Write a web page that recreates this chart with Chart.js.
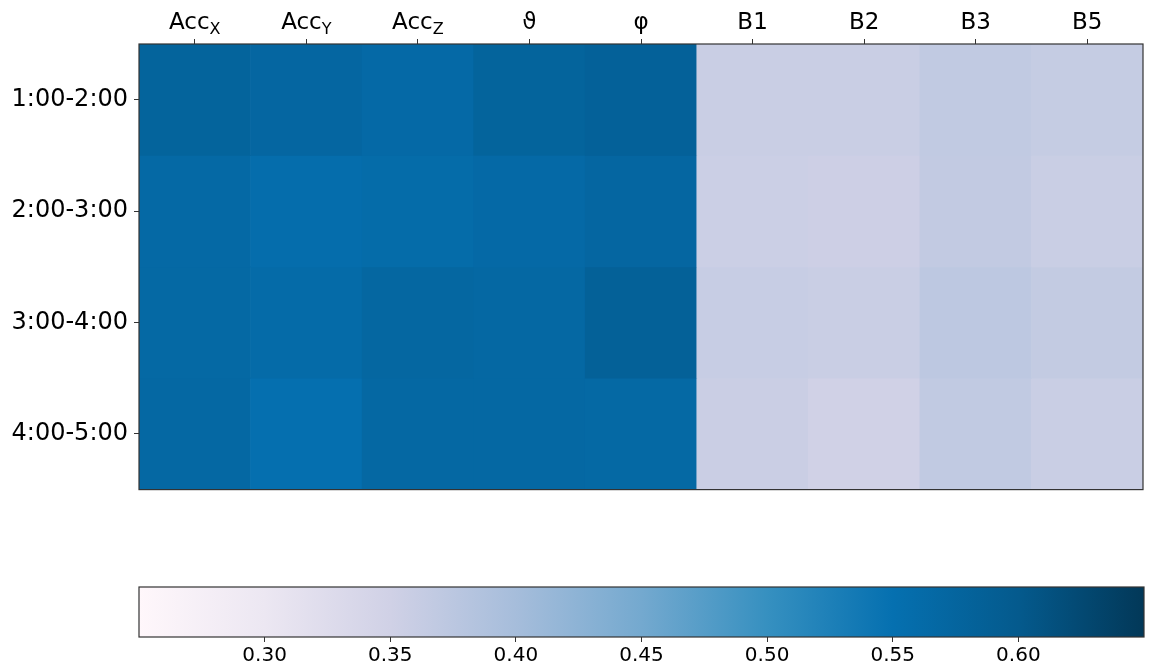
<!DOCTYPE html>
<html>
<head>
<meta charset="utf-8">
<script src="https://cdn.jsdelivr.net/npm/chart.js@4.4.1/dist/chart.umd.min.js"></script>
<style>
  html, body { margin: 0; padding: 0; background: #ffffff; }
  #wrap { position: relative; width: 1149px; height: 664px; overflow: hidden; }
  #heat { position: absolute; left: 0; top: 0; }
  #cbar { position: absolute; left: 0; top: 570px; }
</style>
</head>
<body>
<div id="wrap">
  <canvas id="heat" width="1149" height="510"></canvas>
  <canvas id="cbar" width="1149" height="94"></canvas>
</div>
<script>
// ---------------- data ----------------
const colNames = ['Acc', 'Acc', 'Acc', 'ϑ', 'φ', 'B1', 'B2', 'B3', 'B5'];
const colSubs  = ['X', 'Y', 'Z', '', '', '', '', '', ''];
const rowLabels = ['1:00-2:00', '2:00-3:00', '3:00-4:00', '4:00-5:00'];

const row1 = [0.578, 0.572, 0.565, 0.578, 0.583, 0.358, 0.358, 0.368, 0.363];
const row2 = [0.566, 0.556, 0.560, 0.565, 0.572, 0.356, 0.354, 0.367, 0.358];
const row3 = [0.567, 0.561, 0.571, 0.569, 0.584, 0.361, 0.358, 0.373, 0.366];
const row4 = [0.569, 0.552, 0.569, 0.568, 0.567, 0.357, 0.350, 0.368, 0.358];

const cbarMin = 0.25;
const cbarMax = 0.65;
const cbarTicks = [0.30, 0.35, 0.40, 0.45, 0.50, 0.55, 0.60];

// ---------------- colormap (PuBu) ----------------
const puBu = ['#fff7fb', '#ece7f2', '#d0d1e6', '#a6bddb', '#74a9cf', '#3690c0', '#0570b0', '#045a8d', '#023858'];
function hexToRgb(h) { return [parseInt(h.substr(1,2),16), parseInt(h.substr(3,2),16), parseInt(h.substr(5,2),16)]; }
const puBuRgb = puBu.map(hexToRgb);
function colorFor(v) {
  let t = (v - cbarMin) / (cbarMax - cbarMin);
  t = Math.max(0, Math.min(1, t));
  const n = puBuRgb.length - 1;
  const p = t * n;
  const i = Math.min(n - 1, Math.floor(p));
  const f = p - i;
  const a = puBuRgb[i], b = puBuRgb[i + 1];
  const c = a.map((x, k) => Math.round(x + (b[k] - x) * f));
  return 'rgb(' + c.join(',') + ')';
}

const FONT = 'DejaVu Sans';
const rows = [row1, row2, row3, row4];

// frame plugin
const framePlugin = {
  id: 'frame',
  afterDatasetsDraw(chart) {
    const a = chart.chartArea, ctx = chart.ctx;
    ctx.save();
    ctx.strokeStyle = '#333333';
    ctx.lineWidth = 1.2;
    ctx.strokeRect(a.left, a.top, a.right - a.left, a.bottom - a.top);
    ctx.restore();
  }
};

// top labels with subscripts
const topLabelPlugin = {
  id: 'topLabels',
  afterDraw(chart) {
    const xs = chart.scales.x, ctx = chart.ctx;
    ctx.save();
    ctx.fillStyle = '#000000';
    ctx.textBaseline = 'alphabetic';
    ctx.textAlign = 'left';
    colNames.forEach((name, i) => {
      const px = xs.getPixelForTick(i);
      ctx.font = '23px ' + FONT;
      const w1 = ctx.measureText(name).width;
      ctx.font = '16px ' + FONT;
      const w2 = colSubs[i] ? ctx.measureText(colSubs[i]).width : 0;
      const x0 = px - (w1 + w2) / 2;
      ctx.font = '23px ' + FONT;
      ctx.fillText(name, x0, 29);
      if (colSubs[i]) {
        ctx.font = '16px ' + FONT;
        ctx.fillText(colSubs[i], x0 + w1, 34);
      }
    });
    ctx.restore();
  }
};

const heatDatasets = rows.map((vals, r) => ({
  label: rowLabels[r],
  data: vals.map(() => [r, r + 1]),
  backgroundColor: vals.map(colorFor),
  borderWidth: 0,
  grouped: false,
  barPercentage: 1.0,
  categoryPercentage: 1.0
}));

new Chart(document.getElementById('heat'), {
  type: 'bar',
  data: {
    labels: colNames.map((n, i) => n + colSubs[i]),
    datasets: heatDatasets
  },
  options: {
    responsive: false,
    animation: false,
    devicePixelRatio: 1,
    layout: { padding: { left: 0, right: 6, top: 0, bottom: 9 } },
    plugins: { legend: { display: false }, tooltip: { enabled: false } },
    scales: {
      x: {
        type: 'category',
        position: 'top',
        offset: true,
        grid: { offset: false, drawOnChartArea: false, drawTicks: true, tickLength: 5, color: '#333333' },
        border: { display: false },
        ticks: { display: false },
        afterFit(scale) { scale.height = 44; }
      },
      y: {
        type: 'linear',
        min: 0,
        max: 4,
        reverse: true,
        grid: { drawOnChartArea: false, drawTicks: true, tickLength: 5, color: '#333333' },
        border: { display: false },
        afterBuildTicks(scale) { scale.ticks = rowLabels.map((_, i) => ({ value: i + 0.5 })); },
        ticks: {
          padding: 6,
          color: '#000000',
          font: { family: FONT, size: 24 },
          callback(value) { return rowLabels[Math.floor(value)]; }
        },
        afterFit(scale) { scale.width = 139; }
      }
    }
  },
  plugins: [framePlugin, topLabelPlugin]
});

// ---------------- colorbar ----------------
new Chart(document.getElementById('cbar'), {
  type: 'bar',
  data: {
    labels: ['cb'],
    datasets: [{
      data: [[cbarMin, cbarMax]],
      borderWidth: 0,
      barPercentage: 1.0,
      categoryPercentage: 1.0,
      backgroundColor(ctx) {
        const chart = ctx.chart;
        const a = chart.chartArea;
        if (!a) return puBu[4];
        const xs = chart.scales.x;
        const g = chart.ctx.createLinearGradient(xs.getPixelForValue(cbarMin), 0, xs.getPixelForValue(cbarMax), 0);
        puBu.forEach((c, i) => g.addColorStop(i / (puBu.length - 1), c));
        return g;
      }
    }]
  },
  options: {
    indexAxis: 'y',
    responsive: false,
    animation: false,
    devicePixelRatio: 1,
    layout: { padding: { left: 139, right: 5, top: 17, bottom: 0 } },
    plugins: { legend: { display: false }, tooltip: { enabled: false } },
    scales: {
      x: {
        type: 'linear',
        min: cbarMin,
        max: cbarMax,
        grid: { drawOnChartArea: false, drawTicks: true, tickLength: 5, color: '#333333' },
        border: { display: false },
        afterBuildTicks(scale) { scale.ticks = cbarTicks.map(v => ({ value: v })); },
        ticks: {
          padding: 2,
          color: '#000000',
          maxRotation: 0,
          autoSkip: false,
          font: { family: FONT, size: 20 },
          callback(value) { return Number(value).toFixed(2); }
        },
        afterFit(scale) { scale.height = 27; }
      },
      y: { type: 'category', display: false }
    }
  },
  plugins: [framePlugin]
});
</script>
</body>
</html>
